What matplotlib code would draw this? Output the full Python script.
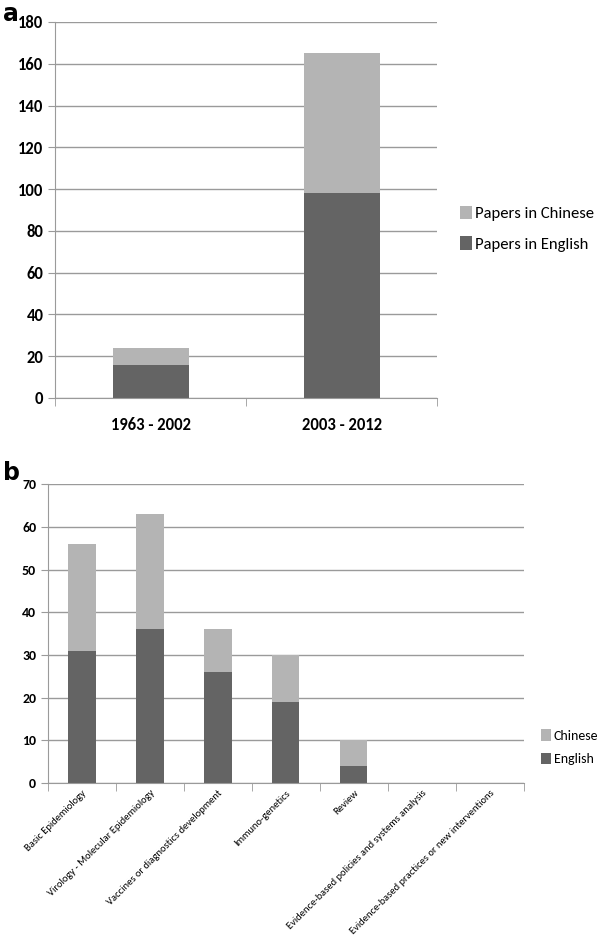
import numpy as np
import matplotlib
matplotlib.use("Agg")
import matplotlib.pyplot as plt
from matplotlib import font_manager

installed = {f.name for f in font_manager.fontManager.ttflist}
if "Carlito" in installed:
    plt.rcParams['font.family'] = ['Carlito', 'DejaVu Sans']
    scale = 1.0
else:
    plt.rcParams['font.family'] = ['Lato', 'DejaVu Sans']
    scale = 0.85
# narrow family for the long rotated labels
label_family = plt.rcParams['font.family']
for cand in ["Carlito", "Roboto Condensed", "Liberation Sans Narrow", "Open Sans Condensed"]:
    if cand in installed:
        label_family = [cand, 'DejaVu Sans']
        break

# panel a
periods = ["1963 - 2002", "2003 - 2012"]
english_a = [16, 98]
chinese_a = [8, 67]

# panel b
topics = ["Basic Epidemiology", "Virology - Molecular Epidemiology",
          "Vaccines or diagnostics development", "Immuno-genetics", "Review",
          "Evidence-based policies and systems analysis",
          "Evidence-based practices or new interventions"]
english_b = [31, 36, 26, 19, 4, 0, 0]
chinese_b = [25, 27, 10, 11, 6, 0, 0]

dark = "#646464"
light = "#b4b4b4"
grid = "#9a9a9a"


def style_axes(ax, n):
    ax.set_xlim(-0.5, n - 0.5)
    ax.yaxis.grid(True, color=grid, lw=1)
    ax.set_axisbelow(True)
    for s in ["top", "right"]:
        ax.spines[s].set_visible(False)
    for s in ["left", "bottom"]:
        ax.spines[s].set_color(grid)
    ax.tick_params(axis="y", color=grid, length=5)
    ax.tick_params(axis="x", which="major", length=0)
    ax.set_xticks(np.arange(-0.5, n, 1), minor=True)
    ax.tick_params(axis="x", which="minor", color=grid, length=6)


fig = plt.figure(figsize=(6, 9.4), dpi=100)

ax1 = fig.add_axes([0.092, 0.5766, 0.637, 0.40])
x = np.arange(len(periods))
ax1.bar(x, english_a, 0.4, color=dark, label="Papers in English")
ax1.bar(x, chinese_a, 0.4, bottom=english_a, color=light, label="Papers in Chinese")
style_axes(ax1, len(periods))
ax1.set_ylim(0, 180)
ax1.set_yticks(range(0, 181, 20))
ax1.set_xticks(x)
ax1.set_xticklabels(periods, fontweight="bold", fontsize=12 * scale)
for t in ax1.get_yticklabels():
    t.set_fontweight("bold")
    t.set_fontsize(12 * scale)
ax1.tick_params(axis="x", pad=14)
h, l = ax1.get_legend_handles_labels()
ax1.legend(h[::-1], l[::-1], loc="center left", bbox_to_anchor=(1.02, 0.45),
           frameon=False, fontsize=12 * scale, handlelength=0.7, handleheight=0.9,
           handletextpad=0.2, labelspacing=0.9)
fig.text(0.005, 0.985, "a", fontsize=17, fontweight="bold", va="center",
         family="DejaVu Sans")

ax2 = fig.add_axes([0.08, 0.167, 0.793, 0.318])
xb = np.arange(len(topics))
ax2.bar(xb, english_b, 0.4, color=dark, label="English")
ax2.bar(xb, chinese_b, 0.4, bottom=english_b, color=light, label="Chinese")
style_axes(ax2, len(topics))
ax2.set_ylim(0, 70)
ax2.set_yticks(range(0, 71, 10))
ax2.set_xticks(xb)
labels_b = ax2.set_xticklabels(topics, rotation=45, ha="right",
                               rotation_mode="anchor", fontsize=9,
                               family=label_family)
for t in ax2.get_yticklabels():
    t.set_fontweight("bold")
    t.set_fontsize(10 * scale)
ax2.tick_params(axis="x", pad=4)
h, l = ax2.get_legend_handles_labels()
ax2.legend(h[::-1], l[::-1], loc="center left", bbox_to_anchor=(1.01, 0.12),
           frameon=False, fontsize=10 * scale, handlelength=0.7, handleheight=0.9,
           handletextpad=0.2, labelspacing=0.8)
fig.text(0.005, 0.497, "b", fontsize=17, fontweight="bold", va="center",
         family="DejaVu Sans")

# shrink the rotated labels until the longest one fits in the figure
size = 9.0
renderer = fig.canvas.get_renderer()
while size > 5:
    lowest = min(t.get_window_extent(renderer).y0 for t in labels_b)
    if lowest >= 2:
        break
    size -= 0.2
    for t in labels_b:
        t.set_fontsize(size)

fig.savefig("out.png", dpi=100)
